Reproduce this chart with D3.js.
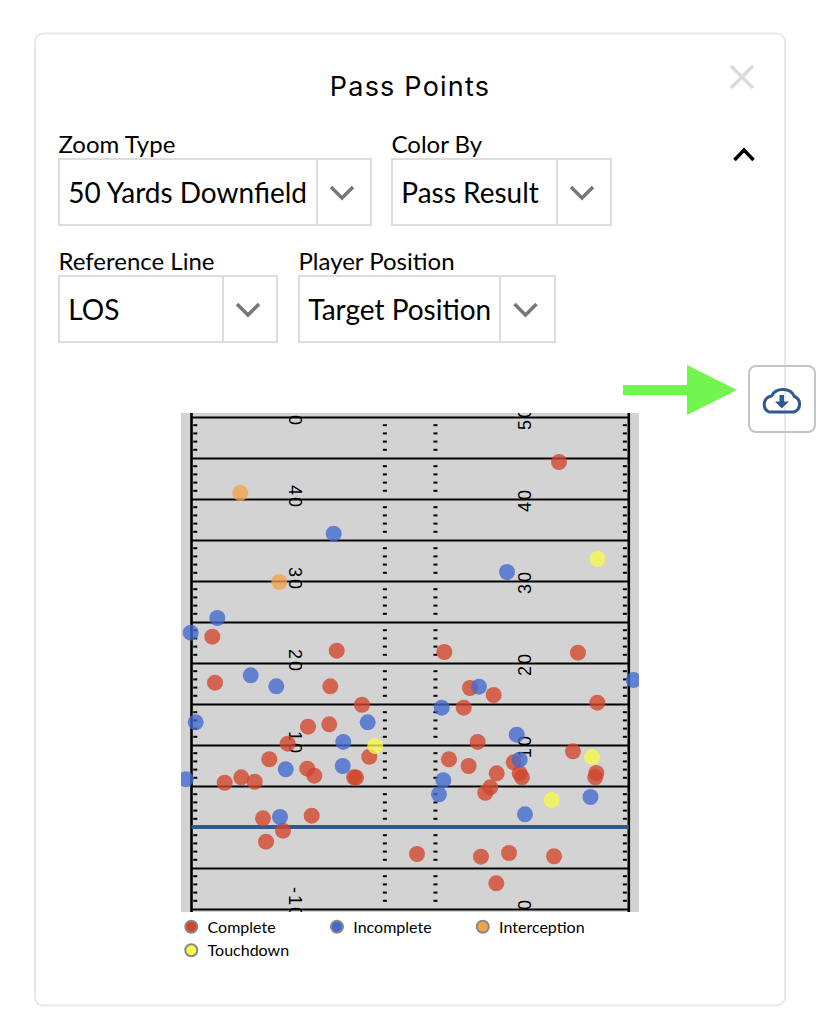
<!DOCTYPE html>
<html><head><meta charset="utf-8">
<script src="https://cdn.jsdelivr.net/npm/d3@7"></script>
<style>
html,body{margin:0;padding:0;background:#fff}
svg{display:block}
text{fill:#000}
.lbl{font-family:Lato,sans-serif;font-size:24px}
.val{font-family:Lato,sans-serif;font-size:28px}
.leg{font-family:Lato,sans-serif;font-size:16px}
</style></head><body>
<svg id="c" width="828" height="1028"></svg>
<script>
const title = "Pass Points";
const controls = [
  ["Zoom Type","50 Yards Downfield"],
  ["Color By","Pass Result"],
  ["Reference Line","LOS"],
  ["Player Position","Target Position"]
];
const resultNames = ["Complete","Incomplete","Interception","Touchdown"];
const resultColors = ["#d2452b","#4369cf","#f2a34a","#faf94a"];
const numberLabels = [-10,10,20,30,40,50];
const losYard = 0;
// x = yards across the field from left sideline, y = yards downfield of LOS
const complete = [[44.82,44.51],[2.54,23.21],[17.71,21.5],[2.87,17.6],[16.93,17.16],[20.79,14.91],[14.21,12.23],[16.8,12.52],[11.73,10.16],[21.68,8.57],[9.49,8.26],[14.12,7.11],[14.98,6.26],[19.82,6.06],[20.06,6.04],[6.07,6.06],[7.71,5.52],[4.05,5.4],[30.83,21.34],[47.13,21.26],[33.96,16.95],[36.85,16.1],[33.2,14.55],[49.49,15.16],[34.9,10.37],[46.52,9.23],[31.4,8.26],[33.8,7.44],[39.29,7.89],[37.22,6.55],[40.02,6.55],[40.3,6.06],[49.37,6.59],[49.24,6.06],[36.44,4.84],[35.83,4.18],[8.72,1.06],[14.66,1.38],[11.16,-0.45],[9.09,-1.79],[27.5,-3.29],[35.3,-3.62],[38.72,-3.17],[44.21,-3.57],[37.17,-6.87]];
const incomplete = [[3.15,25.49],[-0.1,23.7],[7.22,18.5],[10.34,17.16],[0.51,12.77],[21.49,12.77],[18.51,10.37],[11.49,7.04],[18.44,7.44],[-0.71,5.82],[35.06,17.11],[53.93,17.93],[30.51,14.55],[39.66,11.26],[40.02,8.21],[30.71,5.7],[30.18,3.99],[48.66,3.66],[10.79,1.22],[40.67,1.55],[17.34,35.77],[38.48,31.1]];
const interception = [[5.95,40.73],[10.71,29.88]];
const touchdown = [[22.41,9.88],[48.84,8.54],[43.93,3.29],[49.51,32.68]];
const seriesPoints = [complete,incomplete,interception,touchdown];

const svg = d3.select("#c");
// card
svg.append("rect").attr("x",35).attr("y",33.5).attr("width",750).attr("height",972).attr("rx",8)
  .attr("fill","#fff").attr("stroke","#e8e8e8").attr("stroke-width",2);
svg.append("text").attr("x",410).attr("y",96).attr("text-anchor","middle")
  .style("font-family","Inter,sans-serif").style("font-size","27px").style("letter-spacing","1.2px").text(title);
// close
svg.append("path").attr("d","M731 66L753 88M753 66L731 88").attr("stroke","#d9dbdf").attr("stroke-width",3.5).attr("fill","none");
// collapse chevron
svg.append("path").attr("d","M734.5 160L744 150L753.5 160").attr("stroke","#000").attr("stroke-width",3.5).attr("fill","none");

// dropdowns
const boxes = [
  {x:59,y:159,w:312,h:66,d:258},
  {x:392,y:159,w:219,h:66,d:165},
  {x:59,y:276,w:218,h:66,d:164},
  {x:299,y:276,w:256,h:66,d:201}
];
controls.forEach((c,i)=>{
  const b = boxes[i], g = svg.append("g");
  g.append("text").attr("class","lbl").attr("x",b.x-0.5).attr("y",b.y-6).text(c[0]);
  g.append("rect").attr("x",b.x).attr("y",b.y).attr("width",b.w).attr("height",b.h)
    .attr("fill","#fff").attr("stroke","#ddd").attr("stroke-width",2);
  g.append("line").attr("x1",b.x+b.d).attr("x2",b.x+b.d).attr("y1",b.y).attr("y2",b.y+b.h).attr("stroke","#ddd").attr("stroke-width",2);
  g.append("text").attr("class","val").attr("x",b.x+9.3).attr("y",b.y+44).text(c[1]);
  const cx = b.x+b.d+(b.w-b.d)/2-2;
  g.append("path").attr("d",`M${cx-11} ${b.y+28}L${cx} ${b.y+39}L${cx+11} ${b.y+28}`).attr("stroke","#777").attr("stroke-width",3.5).attr("fill","none");
});

// green arrow
svg.append("path").attr("d","M623 385H687V365L737 390L687 415V395H623Z").attr("fill","#72f54f");
// download button
svg.append("rect").attr("x",749).attr("y",366).attr("width",66).attr("height",66).attr("rx",7)
  .attr("fill","none").attr("stroke","#c4c4c4").attr("stroke-width",2);
svg.append("path").attr("d","M769 412H794A8.3 8.3 0 0 0 794.5 396.5A12.5 11 0 0 0 771.5 396A8.5 8.5 0 0 0 769 412Z")
  .attr("fill","none").attr("stroke","#2f5a8f").attr("stroke-width",3);
svg.append("path").attr("d","M779.5 395H784V401.5H789L781.7 408.5L775 401.5H779.5Z").attr("fill","#2f5a8f");

// field
const fx0=181, fx1=639, fy0=413, fy1=912;
const x = d3.scaleLinear().domain([0,53.33]).range([191.5,628.8]);
const y = d3.scaleLinear().domain([0,50]).range([827,417]);
const defs = svg.append("defs");
defs.append("clipPath").attr("id","fc").append("rect").attr("x",fx0).attr("y",fy0).attr("width",fx1-fx0).attr("height",fy1-fy0);
const field = svg.append("g").attr("clip-path","url(#fc)");
field.append("rect").attr("x",fx0).attr("y",fy0).attr("width",fx1-fx0).attr("height",fy1-fy0).attr("fill","#d3d3d3");

// hash marks every yard except 5-yard lines
const hashRows = d3.range(-10,51).filter(v=>v%5!==0);
const hashCols = [0.46,23.58,29.75,52.85];
hashCols.forEach(h=>{
  field.append("g").selectAll("line").data(hashRows).join("line")
    .attr("x1",x(h)-2).attr("x2",x(h)+2).attr("y1",d=>y(d)).attr("y2",d=>y(d))
    .attr("stroke","#000").attr("stroke-width",2);
});
// yard lines through d3 axis
const yAxis = d3.axisLeft(y).tickValues(d3.range(-10,51,5)).tickSize(-(x(53.33)-x(0))).tickFormat("");
const ax = field.append("g").attr("transform",`translate(${x(0)},0)`).call(yAxis);
ax.select(".domain").remove();
ax.selectAll("line").attr("stroke","#000").attr("stroke-width",2);
// sidelines
[0,53.33].forEach(v=>field.append("line").attr("x1",x(v)).attr("x2",x(v)).attr("y1",fy0).attr("y2",fy1).attr("stroke","#000").attr("stroke-width",2.6));
// numbers
const numStyle = s=>s.style("font-family","'Liberation Sans',sans-serif").style("font-size","18px").style("letter-spacing","2px").attr("text-anchor","end").attr("dy","0.35em");
numStyle(field.append("g").selectAll("text").data(numberLabels).join("text")
  .attr("transform",d=>`translate(${x(12.7)},${y(d)+10}) rotate(90)`)
  .text(d=>d));
numStyle(field.append("g").selectAll("text").data(numberLabels).join("text")
  .attr("transform",d=>`translate(${x(40.6)},${y(d)-11}) rotate(-90)`)
  .text(d=>d));
// LOS
field.append("line").attr("x1",x(0)).attr("x2",x(53.33)).attr("y1",y(losYard)).attr("y2",y(losYard)).attr("stroke","#2f5a8f").attr("stroke-width",4);
// points
seriesPoints.forEach((pts,i)=>{
  field.append("g").selectAll("circle").data(pts).join("circle")
    .attr("cx",d=>x(d[0])).attr("cy",d=>y(d[1])).attr("r",8)
    .attr("fill",resultColors[i]).attr("fill-opacity",0.78);
});
// legend
const legPos = [[191.3,926.7],[337,926.7],[482.8,926.7],[191.3,950.3]];
resultNames.forEach((n,i)=>{
  const g = svg.append("g").attr("transform",`translate(${legPos[i][0]},${legPos[i][1]})`);
  g.append("circle").attr("r",6).attr("fill",resultColors[i]).attr("stroke","#888").attr("stroke-width",2);
  g.append("text").attr("class","leg").attr("x",16.3).attr("y",6).text(n);
});
</script></body></html>
